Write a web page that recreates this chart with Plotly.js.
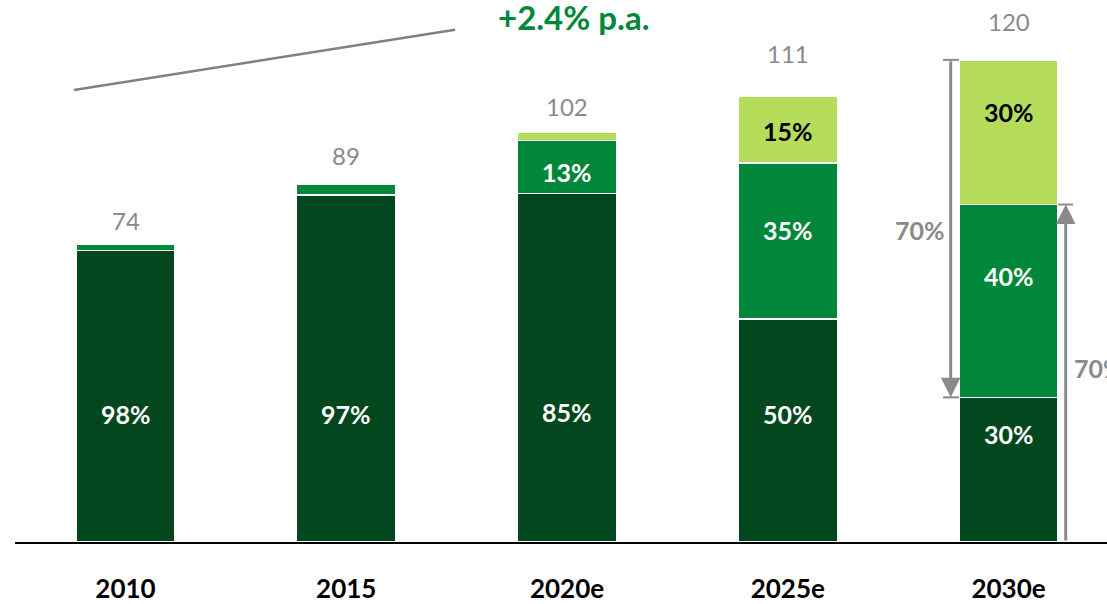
<!DOCTYPE html>
<html>
<head>
<meta charset="utf-8">
<script src="https://cdn.plot.ly/plotly-3.0.1.min.js"></script>
<style>html,body{margin:0;padding:0;background:#fff;}#chart{width:1107px;height:604px;}</style>
</head>
<body>
<div id="chart"></div>
<script>
// ---- data ----
const categories = ["2010", "2015", "2020e", "2025e", "2030e"];
const totals = [74, 89, 102, 111, 120];
const shareDark = [98, 97, 85, 50, 30];
const shareMid = [2, 3, 13, 35, 40];
const shareLight = [0, 0, 2, 15, 30];
const cagrLabel = "+2.4% p.a.";
const bracketLabel = "70%";

// ---- styling / placement ----
const cDark = "#03471F", cMid = "#00873A", cLight = "#B6DC5C", cGrey = "#8A8A8A";
const FONT = "Lato";
const barW = 0.45;

const seg = (sh) => sh.map((s, i) => totals[i] * s / 100);
const vDark = seg(shareDark), vMid = seg(shareMid), vLight = seg(shareLight);

function barTrace(vals, color) {
  return {
    type: "bar", x: categories, y: vals, width: barW,
    marker: {color: color, line: {color: "#ffffff", width: 1.5}},
    hoverinfo: "skip"
  };
}
const data = [barTrace(vDark, cDark), barTrace(vMid, cMid), barTrace(vLight, cLight)];

// label vertical positions (data units) for segment labels
const labelYDark = [31.9, 31.9, 32.4, 31.9, 26.9];
const labelYMid = [null, null, 92.1, 77.7, 66.2];
const labelYLight = [null, null, null, 102.3, 107.0];
const totalShift = [24, 29, 26, 43, 38];

const annotations = [];
const segFont = (c) => ({family: FONT, size: 25, color: c, weight: 700});
categories.forEach((c, i) => {
  annotations.push({x: i, y: labelYDark[i], text: shareDark[i] + "%", showarrow: false, font: segFont("#ffffff")});
  if (labelYMid[i] !== null) annotations.push({x: i, y: labelYMid[i], text: shareMid[i] + "%", showarrow: false, font: segFont("#ffffff")});
  if (labelYLight[i] !== null) annotations.push({x: i, y: labelYLight[i], text: shareLight[i] + "%", showarrow: false, font: segFont("#000000")});
  annotations.push({x: i, y: totals[i], yshift: totalShift[i], text: String(totals[i]), showarrow: false,
    font: {family: FONT, size: 24, color: cGrey}});
});

// CAGR text
annotations.push({x: 2.03, y: 130.6, text: cagrLabel, showarrow: false,
  font: {family: FONT, size: 33, color: "#00873A", weight: 700}});

// 2030 brackets
const last = categories.length - 1;
const topLast = totals[last];
const darkLast = vDark[last];
const midTopLast = vDark[last] + vMid[last];
// left arrow (down)
annotations.push({x: last - 0.262, y: darkLast, ax: last - 0.262, ay: topLast, axref: "x", ayref: "y",
  xref: "x", yref: "y", showarrow: true, arrowhead: 2, arrowsize: 1.3, arrowwidth: 3, arrowcolor: cGrey, text: "", standoff: 0});
annotations.push({x: last - 0.40, y: 77.7, text: bracketLabel, showarrow: false,
  font: {family: FONT, size: 25, color: cGrey, weight: 700}});
// right arrow (up)
annotations.push({x: last + 0.259, y: midTopLast, ax: last + 0.259, ay: 0, axref: "x", ayref: "y",
  xref: "x", yref: "y", showarrow: true, arrowhead: 2, arrowsize: 1.3, arrowwidth: 3, arrowcolor: cGrey, text: "", standoff: 0});
annotations.push({x: last + 0.286, y: 43.3, xanchor: "left", text: bracketLabel, showarrow: false,
  font: {family: FONT, size: 25, color: cGrey, weight: 700}});

const shapes = [
  // CAGR line
  {type: "line", xref: "x", yref: "y", x0: -0.233, y0: 112.5, x1: 1.493, y1: 127.5,
    line: {color: "#808080", width: 2.5}},
  // bracket ticks
  {type: "line", xref: "x", yref: "y", x0: last - 0.297, x1: last - barW / 2, y0: topLast, y1: topLast, line: {color: cGrey, width: 2}},
  {type: "line", xref: "x", yref: "y", x0: last - 0.297, x1: last - barW / 2, y0: darkLast, y1: darkLast, line: {color: cGrey, width: 2}},
  {type: "line", xref: "x", yref: "y", x0: last + barW / 2, x1: last + 0.292, y0: midTopLast, y1: midTopLast, line: {color: cGrey, width: 2}}
];

const layout = {
  width: 1107, height: 604,
  margin: {l: 15, r: 0, t: 0, b: 62},
  paper_bgcolor: "#ffffff", plot_bgcolor: "#ffffff",
  barmode: "stack", showlegend: false,
  xaxis: {type: "category", range: [-0.5006, 4.446], showgrid: false, zeroline: false,
    showline: true, linecolor: "#000000", linewidth: 2, ticks: "", ticklabelstandoff: 23,
    tickfont: {family: FONT, size: 26, color: "#000000", weight: 700}, fixedrange: true},
  yaxis: {range: [0, 134.9], visible: false, showgrid: false, zeroline: false, fixedrange: true},
  annotations: annotations,
  shapes: shapes,
  hovermode: false
};

Plotly.newPlot("chart", data, layout, {displayModeBar: false, staticPlot: true});
</script>
</body>
</html>
